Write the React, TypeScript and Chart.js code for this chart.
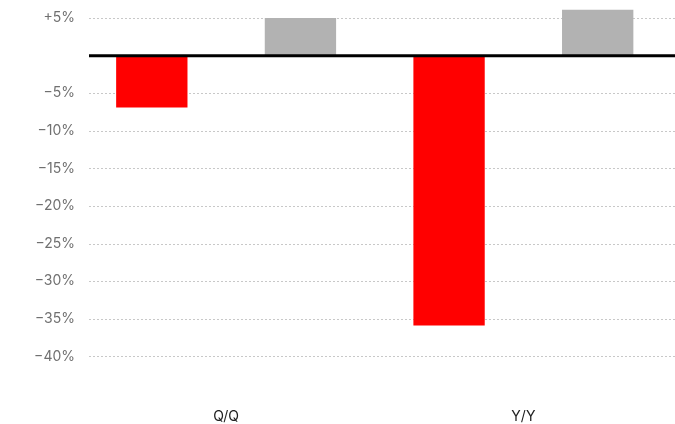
import React, { useEffect, useRef } from "react";
import { Chart, registerables } from "chart.js";

Chart.register(...registerables);

const categories = ["Q/Q", "Y/Y"];
const seriesA = [-6.9, -35.9];
const seriesB = [5.0, 6.1];
const tickValues = [5, 0, -5, -10, -15, -20, -25, -30, -35, -40];
const yMin = -44.47;
const yMax = 7.4;

const fmt = (v: number) => (v > 0 ? `+${v}%` : v < 0 ? `\u2212${Math.abs(v)}%` : "");

const gridPlugin = {
  id: "customGrid",
  beforeDatasetsDraw(chart: any) {
    const { ctx } = chart;
    const y = chart.scales.y;
    ctx.save();
    ctx.strokeStyle = "#c8c8c8";
    ctx.lineWidth = 1;
    ctx.setLineDash([2, 2]);
    tickValues.forEach((v) => {
      if (v === 0) return;
      const py = Math.round(y.getPixelForValue(v)) + 0.5;
      ctx.beginPath();
      ctx.moveTo(89, py);
      ctx.lineTo(675, py);
      ctx.stroke();
    });
    ctx.restore();
  },
  afterDatasetsDraw(chart: any) {
    const { ctx } = chart;
    const y = chart.scales.y;
    const py = y.getPixelForValue(0);
    ctx.save();
    ctx.strokeStyle = "#000";
    ctx.lineWidth = 3;
    ctx.beginPath();
    ctx.moveTo(89, py);
    ctx.lineTo(675, py);
    ctx.stroke();
    ctx.restore();
  },
};

export default function App() {
  const ref = useRef<HTMLCanvasElement | null>(null);
  useEffect(() => {
    document.body.style.margin = "0";
    const chart = new Chart(ref.current as HTMLCanvasElement, {
      type: "bar",
      data: {
        labels: categories,
        datasets: [
          { data: seriesA, backgroundColor: "#ff0000", categoryPercentage: 1.0, barPercentage: 0.48 },
          { data: seriesB, backgroundColor: "#b2b2b2", categoryPercentage: 1.0, barPercentage: 0.48 },
        ],
      },
      options: {
        animation: false,
        responsive: true,
        maintainAspectRatio: false,
        layout: { padding: { left: 0, right: 3, top: 0, bottom: 0 } },
        plugins: { legend: { display: false }, tooltip: { enabled: false } },
        scales: {
          x: {
            grid: { display: false, drawTicks: false },
            border: { display: false },
            ticks: { color: "#222", font: { family: "Inter", size: 14 }, padding: 18 },
            afterFit(scale: any) {
              scale.height = 34;
              scale.paddingLeft = 0;
              scale.paddingRight = 0;
            },
          },
          y: {
            min: yMin,
            max: yMax,
            grid: { display: false, drawTicks: false },
            border: { display: false },
            afterBuildTicks(scale: any) {
              scale.ticks = tickValues.map((v) => ({ value: v }));
            },
            ticks: {
              color: "#707070",
              font: { family: "Inter", size: 14 },
              padding: 2.5,
              autoSkip: false,
              callback: (v: any) => fmt(Number(v)),
            },
            afterFit(scale: any) {
              scale.width = 77.5;
              scale.paddingTop = 0;
              scale.paddingBottom = 0;
            },
          },
        },
      },
      plugins: [gridPlugin],
    });
    return () => chart.destroy();
  }, []);
  return (
    <div style={{ position: "fixed", left: 0, top: 0, width: 675, height: 424 }}>
      <canvas ref={ref} />
    </div>
  );
}
